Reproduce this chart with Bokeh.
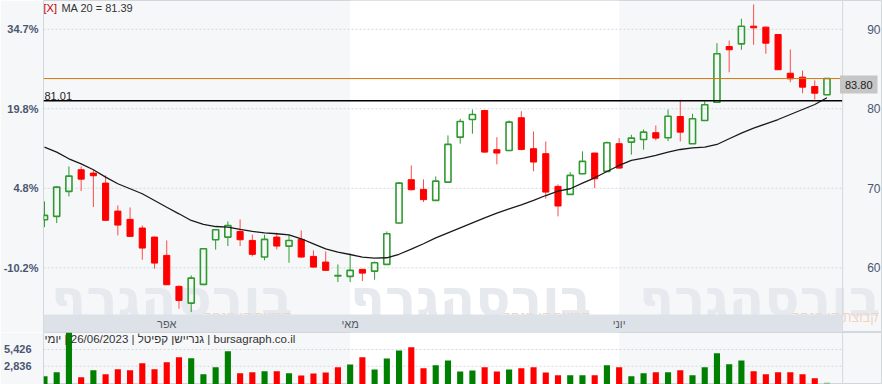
import numpy as np
from bokeh.plotting import figure
from bokeh.layouts import column
from bokeh.models import (Range1d, FixedTicker, Span, BoxAnnotation,
                          Label, NumeralTickFormatter)
from bokeh.core.properties import value
from bokeh.embed import file_html
from bokeh.resources import INLINE

# ---------------- data ----------------
opens = [66.05, 66.47, 69.61, 72.33, 71.91, 70.65, 67.13, 66.09, 65.00, 63.86,
         61.56, 57.66, 55.56, 57.91, 63.53, 63.86, 64.57, 63.44, 61.35, 63.86,
         62.73, 63.57, 61.43, 60.72, 58.97, 58.92, 59.80, 59.58, 60.43, 65.63,
         71.08, 69.86, 68.48, 70.78, 76.43, 78.65, 79.78, 74.85, 74.76, 78.87,
         74.98, 74.35, 70.24, 69.23, 71.83, 74.43, 72.13, 75.61, 75.81, 76.14,
         76.99, 76.36, 79.03, 75.61, 78.53, 80.82, 87.83, 88.17, 90.39, 90.27,
         89.34, 84.47, 83.97, 82.80, 81.76]
highs = [68.35, 70.25, 72.75, 72.75, 72.33, 71.62, 67.84, 67.59, 65.33, 63.93,
         63.44, 57.78, 59.04, 62.42, 64.83, 65.83, 66.08, 64.16, 64.16, 64.41,
         64.13, 64.70, 62.19, 62.06, 60.42, 61.77, 59.89, 60.81, 64.57, 70.78,
         72.87, 71.12, 71.49, 76.65, 78.74, 79.91, 79.86, 76.43, 78.53, 79.70,
         77.15, 75.89, 70.49, 72.03, 74.64, 74.46, 75.89, 76.31, 76.73, 77.40,
         77.90, 79.91, 81.13, 79.37, 80.91, 88.25, 88.59, 91.32, 93.12, 90.35,
         89.38, 87.46, 84.81, 83.56, 83.80]
lows = [65.12, 65.63, 68.98, 69.65, 67.64, 65.88, 64.08, 63.87, 61.02, 59.89,
        57.82, 54.85, 54.43, 57.82, 62.28, 62.73, 62.73, 61.43, 60.93, 62.31,
        60.64, 61.27, 60.02, 59.63, 58.20, 58.20, 58.33, 58.50, 60.40, 65.55,
        69.75, 68.27, 68.45, 70.75, 75.61, 76.86, 74.46, 73.01, 74.66, 74.76,
        72.13, 68.69, 66.47, 69.15, 71.75, 70.02, 72.05, 72.46, 74.23, 74.85,
        76.02, 75.93, 75.89, 75.56, 78.46, 80.76, 84.60, 87.42, 88.05, 86.92,
        84.88, 83.34, 81.96, 81.14, 81.70]
closes = [66.59, 70.15, 71.53, 71.15, 71.58, 65.97, 65.37, 63.95, 62.48, 60.59,
          57.87, 55.89, 58.70, 62.40, 64.78, 65.32, 63.53, 61.69, 63.57, 62.73,
          63.44, 61.35, 60.09, 59.68, 59.02, 59.68, 59.33, 60.64, 64.28, 70.65,
          69.82, 68.57, 70.90, 75.52, 78.40, 79.28, 74.55, 74.43, 78.32, 74.89,
          73.30, 69.52, 67.77, 71.62, 73.38, 71.20, 75.73, 72.54, 76.31, 77.06,
          76.31, 79.07, 77.06, 78.74, 80.50, 86.92, 87.42, 90.39, 90.19, 88.25,
          84.91, 83.77, 82.72, 81.96, 83.80]
ma20 = [75.17, 74.54, 73.71, 73.08, 72.33, 71.40, 70.57, 69.94, 69.31, 68.47,
        67.62, 66.79, 65.95, 65.45, 65.19, 65.11, 64.82, 64.57, 64.40, 64.28,
        64.15, 63.65, 63.02, 62.39, 61.96, 61.67, 61.33, 61.21, 61.26, 61.70,
        62.34, 63.02, 63.77, 64.40, 65.03, 65.66, 66.29, 66.87, 67.42, 67.92,
        68.47, 69.09, 69.64, 69.94, 70.64, 71.32, 72.11, 72.87, 73.50, 73.79,
        74.13, 74.54, 74.88, 75.09, 75.17, 75.51, 76.23, 76.93, 77.56, 78.11,
        78.65, 79.28, 79.91, 80.54, 81.39]
volumes = [1287, 1907, 8200, 1132, 2217, 1597, 2372, 2217, 3302, 2372,
           3457, 4232, 4077, 1597, 2682, 5162, 1752, 1907, 2062, 2062,
           1752, 1395, 1705, 1860, 2687, 3100, 4237, 2325, 4030, 5270,
           5787, 2532, 2997, 3720, 2015, 2170, 2687, 2015, 2325, 2532,
           2687, 1860, 1447, 1447, 1447, 1447, 2997, 2687, 1292, 1757,
           1912, 1912, 2222, 1447, 2687, 4857, 3152, 3720, 2067, 1602,
           1912, 1912, 1602, 977, 310]
month_names = ["אפר", "מאי", "יוני"]
month_starts = [10, 25, 47]
price_ticks = [60, 70, 80, 90]
volume_ticks = [2836, 5426]
base_price = 66.80
support_level = 81.01
ma_period = 20
footer_text = "bursagraph.co.il | גנריישן קפיטל | 26/06/2023 | יומי"
watermark = "בורסהגרף"
watermark_sub = "קבוצת קו מנחה"

# ---------------- layout helpers ----------------
W, H_PRICE, H_VOL = 882, 332, 52
BL, BR = 40, 40
FRAME_W = W - BL - BR          # candle area width (40 .. 842)
X0, X1 = -0.08, 65.28
Y0, Y1 = 51.86, 93.62
V1 = 8060

def xpx(px):
    return X0 + (px - BL) * (X1 - X0) / FRAME_W

def ypx(py):
    return Y1 - py * (Y1 - Y0) / H_PRICE

XR = xpx(W)          # frames run to the right edge (price scale strip drawn inside)
XE = xpx(W - BR)     # end of candle area

FONT_NAME = "Liberation Sans"
FONT = value(FONT_NAME)
AX_COLOR = "#4a5670"
GRID_COLOR = "#d3d7de"
EDGE = "#d3d7dd"
BG = "#f6f7f9"
RED = "#ff0000"
RED_WICK = "#ff4a4a"
GREEN = "#2f9a2f"
VGREEN = "#008000"

N = len(closes)
idx = np.arange(N)
o = np.array(opens); c = np.array(closes); h = np.array(highs); l = np.array(lows)
up = c >= o
top = np.maximum(o, c)
bot = np.minimum(o, c)


def style_left_axis(ax, standoff):
    ax.axis_line_color = None
    ax.major_tick_line_color = None
    ax.minor_tick_line_color = None
    ax.major_tick_out = 0
    ax.minor_tick_out = 0
    ax.major_label_text_font = FONT_NAME
    ax.major_label_text_font_size = "11px"
    ax.major_label_text_font_style = "bold"
    ax.major_label_text_color = AX_COLOR
    ax.major_label_standoff = standoff


# ---------------- price figure ----------------
p = figure(width=W, height=H_PRICE, output_backend="svg", toolbar_location=None,
           x_range=Range1d(X0, XR), y_range=Range1d(Y0, Y1),
           x_axis_location=None, min_border_left=BL, min_border_right=0,
           min_border_top=0, min_border_bottom=0)
p.background_fill_color = BG
p.border_fill_color = BG
p.outline_line_color = EDGE
p.xgrid.visible = False
p.ygrid.visible = False

p.add_layout(BoxAnnotation(left=month_starts[1], right=month_starts[2], fill_color="white",
                           fill_alpha=1.0, line_color=None, level="image"))

# watermarks
for right_px in (290, 590, 880):
    p.add_layout(Label(x=xpx(right_px), y=ypx(297), text=watermark, text_align="right",
                       text_baseline="alphabetic", text_font="DejaVu Sans", text_font_size="52px",
                       text_font_style="bold", text_color="#e6e9ee", level="image"))
    p.add_layout(Label(x=xpx(right_px - 2), y=ypx(316), text=watermark_sub, text_align="right",
                       text_baseline="alphabetic", text_font="Open Sans", text_font_size="14px",
                       text_color="#f0d4bc", level="image"))

# horizontal dotted grid, limited to the candle area
gr = p.segment(x0=[X0] * len(price_ticks), x1=[XE] * len(price_ticks), y0=price_ticks,
               y1=price_ticks, line_color=GRID_COLOR, line_dash="2 2", line_width=1)
gr.level = "underlay"

# left (percent) axis
yl = p.yaxis[0]
yl.ticker = FixedTicker(ticks=price_ticks)
yl.major_label_overrides = {t: "%.1f%%" % ((t / base_price - 1) * 100) for t in price_ticks}
style_left_axis(yl, 5)

# right price scale strip
p.add_layout(Span(location=XE, dimension="height", line_color=EDGE, line_width=1))
p.text(x=[xpx(880)] * len(price_ticks), y=price_ticks, text=[str(t) for t in price_ticks],
       text_align="right", text_baseline="middle", text_font=FONT,
       text_font_size="12px", text_color=AX_COLOR)

# candles: wicks split so hollow bodies stay empty
wick_col = np.where(up, GREEN, RED_WICK).tolist()
p.segment(x0=idx, y0=top, x1=idx, y1=h, line_color=wick_col, line_width=1)
p.segment(x0=idx, y0=l, x1=idx, y1=bot, line_color=wick_col, line_width=1)
dn = ~up
p.vbar(x=idx[dn], width=0.5, top=top[dn], bottom=bot[dn], fill_color=RED,
       line_color=RED, line_width=1)
p.vbar(x=idx[up], width=0.5, top=top[up], bottom=bot[up], fill_alpha=0,
       line_color=GREEN, line_width=1.6)

# moving average
p.line(idx, ma20, line_color="#1a1a1a", line_width=1.3)

# horizontal levels (last price, support)
p.segment(x0=[X0], x1=[XE], y0=[closes[-1]], y1=[closes[-1]], line_color="#d4760a", line_width=1)
p.segment(x0=[X0], x1=[XE], y0=[support_level], y1=[support_level], line_color="#000000",
          line_width=1.3)
p.add_layout(Label(x=0, y=support_level, y_offset=1, text="%.2f" % support_level,
                   text_align="left", text_baseline="bottom", text_font=FONT_NAME,
                   text_font_size="11px", text_color="#222222"))

# date band
p.add_layout(BoxAnnotation(bottom=Y0, top=ypx(314), right=XE, fill_color="#dde1e8",
                           fill_alpha=1.0, line_color=None))
tr = p.text(x=month_starts, y=[(Y0 + ypx(314)) / 2] * len(month_starts), text=month_names,
            text_align="center", text_baseline="middle", text_font=FONT,
            text_font_size="11px", text_color="#555b66")
tr.level = "overlay"

# legend text
p.add_layout(Label(x=xpx(40), y=ypx(7), text="[X]", text_align="left", text_baseline="middle",
                   text_font=FONT_NAME, text_font_size="11px", text_color="#c00000", level="overlay"))
p.add_layout(Label(x=xpx(58), y=ypx(7), text="MA %d = %.2f" % (ma_period, ma20[-1]),
                   text_align="left", text_baseline="middle", text_font=FONT_NAME,
                   text_font_size="11px", text_color="#333333", level="overlay"))

# last price tag
p.add_layout(Label(x=xpx(877), y=ypx(84), text="%.2f" % closes[-1], text_align="right",
                   text_baseline="middle", text_font=FONT_NAME, text_font_size="11px",
                   text_color="#222222", background_fill_color="#c6c6c6",
                   background_fill_alpha=1.0, padding=5, level="overlay"))

# ---------------- volume figure ----------------
v = figure(width=W, height=H_VOL, output_backend="svg", toolbar_location=None,
           x_range=Range1d(X0, XR), y_range=Range1d(0, V1), x_axis_location=None,
           min_border_left=BL, min_border_right=0, min_border_top=0, min_border_bottom=0)
v.background_fill_color = BG
v.border_fill_color = BG
v.outline_line_color = EDGE
v.xgrid.visible = False
v.ygrid.visible = False
v.add_layout(BoxAnnotation(left=month_starts[1], right=month_starts[2], fill_color="white",
                           fill_alpha=1.0, line_color=None, level="image"))
vg = v.segment(x0=[X0] * len(volume_ticks), x1=[XE] * len(volume_ticks), y0=volume_ticks,
               y1=volume_ticks, line_color=GRID_COLOR, line_dash="2 2", line_width=1)
vg.level = "underlay"
v.add_layout(Span(location=XE, dimension="height", line_color=EDGE, line_width=1))

va = v.yaxis[0]
va.ticker = FixedTicker(ticks=volume_ticks)
va.formatter = NumeralTickFormatter(format="0,0")
style_left_axis(va, 12)

prev = np.concatenate([[c[0] - 1], c[:-1]])
vcol = np.where(c >= prev, VGREEN, RED).tolist()
valpha = [1.0] * (N - 1) + [0.3]
v.vbar(x=idx, width=0.5, top=volumes, bottom=0, fill_color=vcol, line_color=None,
       fill_alpha=valpha)
v.add_layout(Label(x=xpx(41), y=V1 - 150, text="\u202b" + footer_text + "\u202c",
                   text_align="left", text_baseline="top", text_font=FONT_NAME,
                   text_font_size="11.5px", text_color="#333333", level="overlay"))

layout = column(p, v, spacing=0)
open("out.html", "w").write(file_html(layout, INLINE))
